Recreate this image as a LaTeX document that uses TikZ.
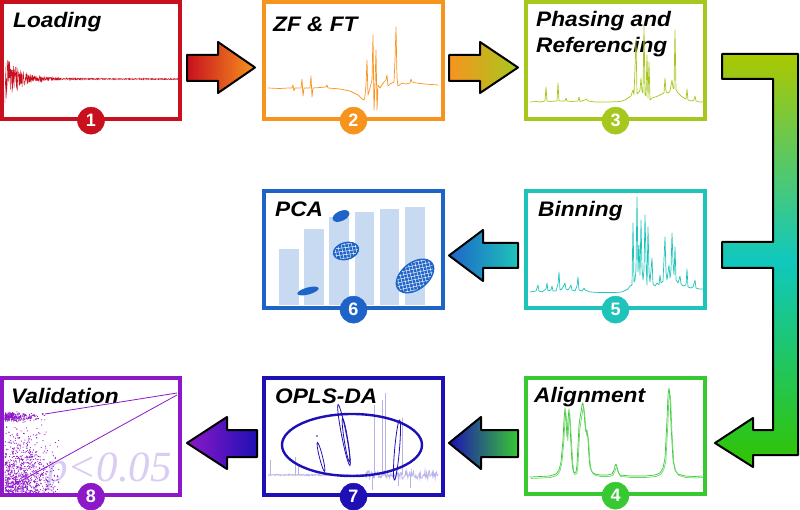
\documentclass[tikz,border=0pt]{standalone}
\usepackage{fontspec}
\newfontfamily\tfont[FakeStretch=1.08]{Liberation Sans}
\newfontfamily\nfont{Liberation Sans}
\newfontfamily\pfont{Liberation Serif}
\definecolor{cRed}{RGB}{200,16,30}
\definecolor{cOrange}{RGB}{247,148,30}
\definecolor{cYG}{RGB}{166,200,30}
\definecolor{cGreen}{RGB}{55,200,50}
\definecolor{cTeal}{RGB}{30,196,186}
\definecolor{cBlue}{RGB}{30,100,200}
\definecolor{cDBlue}{RGB}{30,16,180}
\definecolor{cPurp}{RGB}{140,24,200}
\definecolor{cLav}{RGB}{185,180,232}
\definecolor{cBar}{RGB}{200,218,242}
\definecolor{cPtxt}{RGB}{218,204,242}
\definecolor{cConTop}{RGB}{170,200,0}
\definecolor{cConMid}{RGB}{16,200,190}
\definecolor{cConBot}{RGB}{50,196,0}
\begin{document}
\begin{tikzpicture}[x=1pt,y=-1pt,
  panel/.style={draw=#1, line width=3.3pt, rectangle, minimum width=179pt, minimum height=117pt, inner sep=0pt},
  badge/.style={circle, fill=#1, draw=#1, minimum size=27pt, inner sep=0pt, text=white, font=\nfont\bfseries\fontsize{18}{18}\selectfont},
  ttl/.style={anchor=base west, inner sep=0pt, font=\tfont\bfseries\itshape\fontsize{21}{26}\selectfont},
  fat/.style={draw=black, line width=2pt, line join=round},
  spec/.style={line width=0.7pt, line join=round},
  meshline/.style={white, line width=0.45pt}]
\useasboundingbox (0,0) rectangle (800,510);
\pgfmathsetseed{11}

% ---------- panel 1: Loading
\draw[cRed, line width=0.35pt] plot[domain=5:178, samples=900] (\x, {79 + (26*exp(-(\x-5)/14)+0.6)*(2*rnd-1)});
\node[ttl] (t1) at (13,28) {Loading};

% ---------- panel 2: ZF & FT
\draw[spec, cOrange] plot coordinates {(268,88) (280,88.5) (288,88) (292,88) (293,85) (294,91) (295,88) (301,88) (302,79) (303,96) (304,88) (310,88) (311,76) (312,97) (313,88) (320,87.5) (326,87) (327,85) (328,88) (340,89) (350,91) (358,95) (362,99) (364,100) (365,96) (366,85) (367,60) (368,95) (370,88) (372,80) (373,35) (374,110) (375,86) (376,50) (377,110) (378,85) (380,88) (384,82) (386,80) (387,75) (388,86) (390,84) (394,82) (395,60) (396,27) (397,78) (398,86) (402,83) (406,84) (410,83) (411,79) (412,82) (416,83) (425,84) (438,85)};
\node[ttl] (t2) at (273,32) {ZF \& FT};

% ---------- panel 3: Phasing
\node[ttl] (t3a) at (536,27) {Phasing and};
\node[ttl] (t3b) at (536,53) {Referencing};
\draw[spec, cYG] plot coordinates {(530,102)(536,101.5)(540,102)(545,101)(546,87)(547,101)(550,101.5)(557,101)(558,83)(559,101)(565,101)(566,98)(567,101)(572,101.5)(578,101)(579,97)(580,101.5)(585,100)(586,99)(588,101)(595,102)(610,102)(620,101.5)(625,100)(628,98)(631,96)(633,90)(634,95)(636,40)(637,94)(639,92)(640,90)(641,78)(642,91)(643,93)(644,25)(645,95)(646,96)(647,55)(648,98)(649,62)(650,100)(652,98)(655,97)(658,96)(662,94)(664,93)(665,78)(666,92)(668,93)(670,91)(672,80)(673,88)(674,89)(675,30)(676,90)(678,93)(681,96)(684,98)(686,99)(687,89)(688,100)(692,101)(694,100)(695,96)(696,101)(700,102)(703,102)};

% ---------- panel 5: Binning
\node[ttl] (t5) at (538,217) {Binning};
\draw[spec, cTeal] plot coordinates {(530,292)(536,291)(537,288)(538,285)(539,291)(542,292)(546,289)(547,283)(548,291)(551,290)(552,286)(553,291)(556,291)(558,284)(559,272)(560,290)(562,289)(564,285)(565,283)(566,289)(568,290)(570,287)(571,285)(572,290)(575,291)(577,286)(578,277)(579,290)(582,291)(584,288)(585,290)(590,292)(600,292.5)(615,292.5)(622,292)(626,290)(628,289)(630,286)(632,285)(633,223)(634,282)(635,280)(636,270)(637,197)(638,272)(639,245)(640,275)(641,220)(642,268)(643,280)(644,270)(645,215)(646,260)(647,285)(648,227)(649,272)(650,282)(652,258)(653,284)(655,286)(657,283)(659,285)(660,275)(661,283)(663,281)(665,237)(666,272)(667,280)(669,265)(670,278)(671,270)(672,233)(673,262)(674,275)(675,247)(676,280)(678,283)(680,276)(681,284)(683,286)(686,285)(687,269)(688,287)(691,288)(693,287)(695,280)(696,288)(699,289)(703,289)};

% ---------- panel 6: PCA
\fill[cBar] (279,249) rectangle (299,305);
\fill[cBar] (304,229) rectangle (324,305);
\fill[cBar] (329,217) rectangle (349,305);
\fill[cBar] (355,212) rectangle (374,305);
\fill[cBar] (380,209) rectangle (399,305);
\fill[cBar] (405,207) rectangle (425,305);
\node[ttl] (t6) at (275,217) {PCA};
\fill[cBlue, rotate around={25:(341,216)}] (341,216) ellipse (9pt and 5pt);
\fill[cBlue, rotate around={15:(308,291)}] (308,291) ellipse (11pt and 3.5pt);
\fill[cBlue, rotate around={15:(346,251)}] (346,251) ellipse (13.5pt and 9pt);
\begin{scope}
  \clip[rotate around={15:(346,251)}] (346,251) ellipse (12pt and 7.5pt);
  \foreach \k in {-24,-20.5,...,24} {\draw[meshline] (346+\k,236) -- (346+\k+6,266);}
  \foreach \k in {-12,-8.5,...,12} {\draw[meshline] (330,251+\k) -- (362,247+\k);}
\end{scope}
\fill[cBlue, rotate around={38:(415,276)}] (415,276) ellipse (22pt and 14pt);
\begin{scope}
  \clip[rotate around={38:(415,276)}] (415,276) ellipse (20.5pt and 12.5pt);
  \foreach \k in {-30,-26.5,...,30} {\draw[meshline] (415+\k,254) -- (415+\k+10,298);}
  \foreach \k in {-30,-26.5,...,30} {\draw[meshline] (390,276+\k) -- (440,266+\k);}
\end{scope}

% ---------- panel 4: Alignment
\node[ttl] (t4) at (534,402) {Alignment};
\draw[spec, cGreen] plot coordinates {(530,477)(540,476.5)(550,476)(556,474)(559,470)(561,462)(563,440)(564,420)(565,408)(566,420)(567,437)(568,420)(569,409)(570,425)(571,445)(572,462)(573,470)(574,473)(576,472)(577,465)(578,445)(579,425)(580,418)(581,412)(582,405)(583,403)(584,412)(585,425)(586,432)(587,430)(588,440)(589,457)(590,467)(592,472)(595,474)(600,475)(608,475)(612,474)(614,470)(615,466)(616,464)(617,467)(618,472)(620,475)(630,476)(645,476)(655,475)(660,473)(663,468)(665,458)(667,420)(668,395)(669,388)(670,397)(671,425)(673,460)(675,470)(678,474)(685,476)(695,476.5)(702,476)};
\draw[spec, cGreen!75!white, xshift=0.8pt, yshift=-1.5pt] plot coordinates {(530,477)(540,476.5)(550,476)(556,474)(559,470)(561,462)(563,440)(564,422)(565,411)(566,422)(567,439)(568,422)(569,412)(570,427)(571,446)(572,462)(573,470)(574,473)(576,472)(577,466)(578,447)(579,428)(580,421)(581,415)(582,408)(583,406)(584,414)(585,427)(586,434)(587,432)(588,442)(589,458)(590,467)(592,472)(595,474)(600,475)(608,475)(612,474)(614,470)(615,467)(616,466)(617,468)(618,472)(620,475)(630,476)(645,476)(655,475)(660,473)(663,468)(665,460)(667,424)(668,399)(669,392)(670,400)(671,428)(673,461)(675,470)(678,474)(685,476)(695,476.5)(702,476)};

% ---------- panel 7: OPLS-DA
\draw[cLav, line width=0.8pt] plot[domain=268:438, samples=300] (\x, {475 + (1.4+7*(\x>365))*(rnd-0.5)});
\draw[cLav, line width=0.8pt] (270,475)--(270,460) (295,475)--(295,457) (298,475)--(298,465) (372,475)--(372,490) (374,475)--(374,405) (382,475)--(382,400) (385,475)--(385,393) (398,475)--(398,486) (402,475)--(402,418) (410,475)--(410,488);
\node[ttl] (t7) at (275,403) {OPLS-DA};
\draw[cDBlue, line width=2.4pt] (352,445) ellipse (70pt and 31pt);
\draw[cDBlue, line width=0.8pt, rotate around={104:(321,457)}] (321,457) ellipse (15pt and 1.6pt);
\draw[cDBlue, line width=0.8pt, rotate around={101:(344,435)}] (344,435) ellipse (31pt and 2.4pt);
\draw[cDBlue, line width=0.8pt, rotate around={99:(346,440)}] (346,440) ellipse (22pt and 1.8pt);
\draw[cDBlue, line width=0.8pt, rotate around={85:(397,450)}] (397,450) ellipse (30pt and 2.4pt);
\fill[cDBlue] (317,436) circle (0.9pt);

% ---------- panel 8: Validation
\node[anchor=base west, inner sep=0pt, text=cPtxt, font=\pfont\itshape\fontsize{43}{43}\selectfont] (pv) at (46,481) {p<0.05};
\foreach \i in {1,...,330}{
  \pgfmathsetmacro\px{5+42*rnd*rnd}
  \pgfmathsetmacro\py{417+4*(rnd+rnd+rnd-1.5)}
  \fill[cPurp] (\px,\py) circle (0.6pt);
}
\foreach \i in {1,...,900}{
  \pgfmathsetmacro\px{5+58*rnd*(0.35+0.65*rnd)}
  \pgfmathsetmacro\py{493-72*rnd*(0.25+0.75*rnd)}
  \fill[cPurp] (\px,\py) circle (0.6pt);
}
\node[ttl] (t8) at (11,403) {Validation};
\coordinate (v0) at (177,393);
\coordinate (v1) at (45,414);
\coordinate (v2) at (177,395);
\coordinate (v3) at (10,487);
\draw[cPurp, line width=0.8pt] (v0) -- (v1);
\draw[cPurp, line width=0.8pt] (v2) -- (v3);

% ---------- panels
\node[panel=cRed, minimum width=178pt] (p1) at (91,60.5) {};
\node[panel=cOrange] (p2) at (353.5,60.5) {};
\node[panel=cYG] (p3) at (615.5,60.5) {};
\node[panel=cTeal] (p5) at (615.5,249.5) {};
\node[panel=cBlue] (p6) at (353.5,249.5) {};
\node[panel=cGreen, minimum height=116pt] (p4) at (615.5,436) {};
\node[panel=cDBlue] (p7) at (353.5,436.5) {};
\node[panel=cPurp, minimum width=178pt] (p8) at (91,436.5) {};

% ---------- badges
\node[badge=cRed] (b1) at (p1.south) {1};
\node[badge=cOrange] (b2) at (p2.south) {2};
\node[badge=cYG] (b3) at (p3.south) {3};
\node[badge=cGreen] (b4) at (p4.south) {4};
\node[badge=cTeal] (b5) at (p5.south) {5};
\node[badge=cBlue] (b6) at (p6.south) {6};
\node[badge=cDBlue] (b7) at (p7.south) {7};
\node[badge=cPurp] (b8) at (p8.south) {8};

% ---------- fat arrows
\draw[fat, left color=cRed, right color=cOrange] (187,55)--(218,55)--(218,42)--(255,67.5)--(218,93)--(218,81)--(187,81)--cycle;
\draw[fat, left color=cOrange, right color=cYG] (449,55)--(480,55)--(480,42)--(518,67.5)--(480,93)--(480,81)--(449,81)--cycle;
\draw[fat, left color=cBlue, right color=cTeal] (518,243)--(483,243)--(483,230)--(449,255.5)--(483,281)--(483,268)--(518,268)--cycle;
\draw[fat, left color=cDBlue, right color=cGreen] (518,430)--(481,430)--(481,417)--(449,443)--(481,469)--(481,457)--(518,457)--cycle;
\draw[fat, left color=cPurp, right color=cDBlue] (257,430)--(227,430)--(227,417)--(187,443)--(227,469)--(227,457)--(257,457)--cycle;
\draw[fat, top color=cConTop, bottom color=cConBot, middle color=cConMid]
  (722,54)--(798,54)--(798,455)--(753,455)--(753,467)--(715,443)--(753,418)--(753,430)--(773,430)--(773,268)--(722,268)--(722,242)--(773,242)--(773,79)--(722,79)--cycle;
\end{tikzpicture}
\end{document}
